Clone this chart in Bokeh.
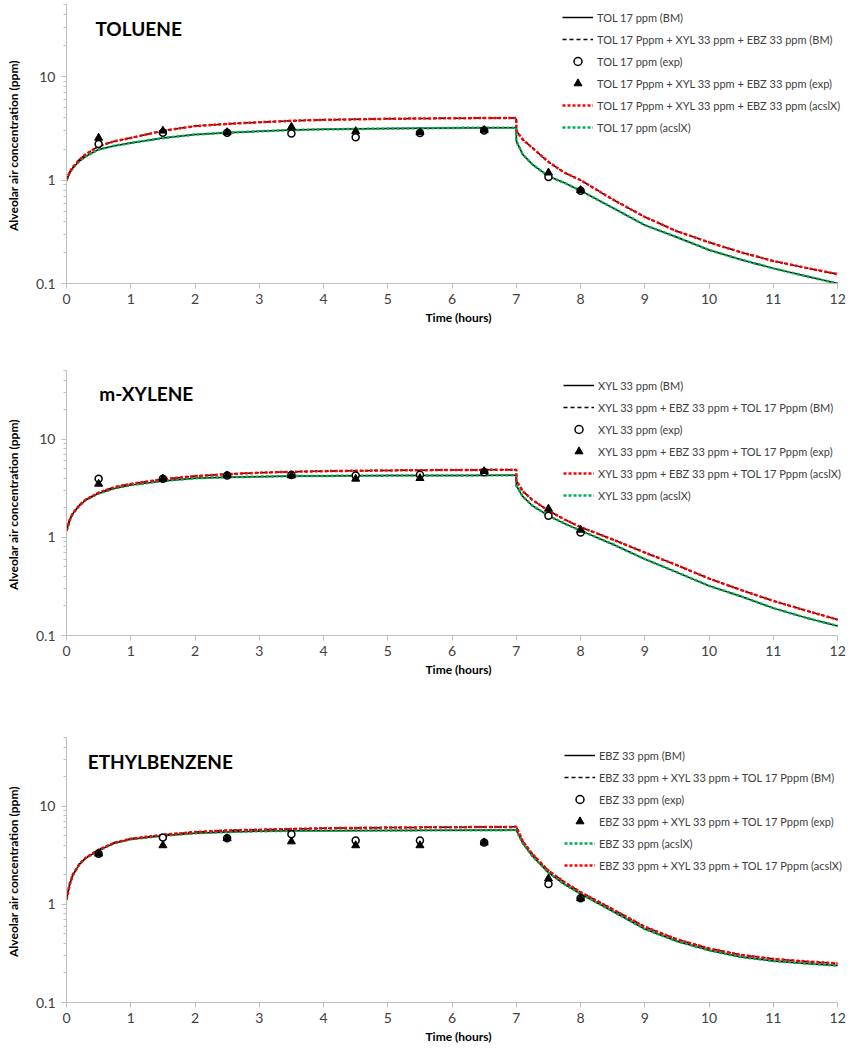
from bokeh.plotting import figure
from bokeh.models import (Range1d, FixedTicker, CustomJSTickFormatter, Legend,
                          LegendItem, Label)
from bokeh.layouts import column
from bokeh.embed import file_html
from bokeh.resources import INLINE

# ---------------- data ----------------
T = [0, 0.05, 0.1, 0.2, 0.3, 0.5, 0.75, 1, 1.5, 2, 2.5, 3, 3.5, 4, 5, 6, 7, 7,
     7.1, 7.25, 7.5, 7.75, 8, 8.5, 9, 9.5, 10, 10.5, 11, 11.5, 12]

TOL_SINGLE = [1.0, 1.18, 1.31, 1.53, 1.7, 1.98, 2.15, 2.29, 2.55, 2.76, 2.88, 2.97,
              3.05, 3.1, 3.15, 3.2, 3.22, 2.38, 1.77, 1.42, 1.09, 0.94, 0.79, 0.54,
              0.367, 0.28, 0.211, 0.17, 0.14, 0.118, 0.1]
TOL_MIX = [1.0, 1.2, 1.34, 1.58, 1.78, 2.13, 2.38, 2.56, 3.0, 3.33, 3.5, 3.63,
           3.75, 3.83, 3.92, 3.97, 4.0, 3.0, 2.47, 2.05, 1.5, 1.18, 1.0, 0.65,
           0.44, 0.32, 0.25, 0.2, 0.165, 0.142, 0.123]
XYL_SINGLE = [1.17, 1.5, 1.75, 2.1, 2.4, 2.8, 3.15, 3.4, 3.75, 4.0, 4.1, 4.15,
              4.2, 4.22, 4.25, 4.27, 4.28, 3.37, 2.6, 2.1, 1.66, 1.38, 1.17, 0.85,
              0.6, 0.44, 0.32, 0.25, 0.19, 0.152, 0.125]
XYL_MIX = [1.17, 1.5, 1.76, 2.12, 2.42, 2.85, 3.25, 3.5, 3.9, 4.2, 4.4, 4.55,
           4.65, 4.72, 4.8, 4.85, 4.88, 3.79, 2.95, 2.4, 1.87, 1.52, 1.27, 0.95,
           0.7, 0.52, 0.38, 0.29, 0.225, 0.18, 0.145]
EBZ_SINGLE = [1.12, 1.6, 2.0, 2.55, 2.95, 3.55, 4.2, 4.6, 5.0, 5.3, 5.45, 5.55,
              5.6, 5.62, 5.65, 5.68, 5.7, 5.7, 4.2, 3.1, 2.1, 1.6, 1.28, 0.85,
              0.56, 0.42, 0.34, 0.29, 0.265, 0.25, 0.238]
EBZ_MIX = [1.12, 1.6, 2.0, 2.57, 2.98, 3.6, 4.25, 4.65, 5.1, 5.45, 5.65, 5.75,
           5.85, 5.95, 6.05, 6.1, 6.15, 6.15, 4.4, 3.25, 2.2, 1.68, 1.33, 0.89,
           0.59, 0.44, 0.355, 0.305, 0.278, 0.262, 0.25]

EXP_T = [0.5, 1.5, 2.5, 3.5, 4.5, 5.5, 6.5, 7.5, 8]
TOL_EXP_SINGLE = [2.24, 2.87, 2.87, 2.83, 2.6, 2.86, 3.02, 1.07, 0.79]
TOL_EXP_MIX = [2.56, 3.0, 2.9, 3.27, 2.97, 2.9, 3.05, 1.18, 0.8]
XYL_EXP_SINGLE = [3.95, 3.94, 4.26, 4.3, 4.26, 4.33, 4.6, 1.66, 1.12]
XYL_EXP_MIX = [3.5, 3.94, 4.26, 4.26, 3.94, 4.0, 4.71, 1.95, 1.19]
EBZ_EXP_SINGLE = [3.27, 4.78, 4.7, 5.17, 4.46, 4.46, 4.26, 1.61, 1.15]
EBZ_EXP_MIX = [3.27, 3.98, 4.7, 4.36, 3.98, 3.98, 4.26, 1.83, 1.15]

TOL_LABELS = ["TOL 17 ppm (BM)",
              "TOL 17 Pppm + XYL 33 ppm + EBZ 33 ppm (BM)",
              "TOL 17 ppm (exp)",
              "TOL 17 Pppm + XYL 33 ppm + EBZ 33 ppm (exp)",
              "TOL 17 Pppm + XYL 33 ppm + EBZ 33 ppm (acslX)",
              "TOL 17 ppm (acslX)"]
XYL_LABELS = ["XYL 33 ppm (BM)",
              "XYL 33 ppm + EBZ 33 ppm + TOL 17 Pppm (BM)",
              "XYL 33 ppm (exp)",
              "XYL 33 ppm + EBZ 33 ppm + TOL 17 Pppm (exp)",
              "XYL 33 ppm + EBZ 33 ppm + TOL 17 Pppm (acslX)",
              "XYL 33 ppm (acslX)"]
EBZ_LABELS = ["EBZ 33 ppm (BM)",
              "EBZ 33 ppm + XYL 33 ppm + TOL 17 Pppm (BM)",
              "EBZ 33 ppm (exp)",
              "EBZ 33 ppm + XYL 33 ppm + TOL 17 Pppm (exp)",
              "EBZ 33 ppm (acslX)",
              "EBZ 33 ppm + XYL 33 ppm + TOL 17 Pppm (acslX)"]

Y_MAJOR = [0.1, 1, 10]
Y_MINOR = [0.2, 0.3, 0.4, 0.5, 0.6, 0.7, 0.8, 0.9, 2, 3, 4, 5, 6, 7, 8, 9, 20, 30, 40, 50]
X_TICKS = list(range(13))

FONT = "Lato"
RED = "#ff0000"
GREEN = "#00b050"
AXIS_GRAY = "#bfbfbf"


def make_panel(title, title_x, title_y, single, mix, exp_single, exp_mix,
               labels, acsl_order, height, top, bottom, leg_loc):
    p = figure(width=852, height=height, y_axis_type="log",
               x_range=Range1d(0, 12.2), y_range=Range1d(0.1, 50),
               output_backend="svg", toolbar_location=None,
               min_border_left=66, min_border_right=2,
               min_border_top=top, min_border_bottom=bottom)
    p.grid.visible = False
    p.outline_line_color = None
    p.background_fill_color = "white"

    r_bm_s = p.line(T, single, line_color="black", line_width=1.5)
    r_bm_m = p.line(T, mix, line_color="black", line_width=1.5, line_dash="4 3")
    r_ac_s = p.line(T, single, line_color=GREEN, line_width=2.5, line_dash="3 2")
    r_ac_m = p.line(T, mix, line_color=RED, line_width=2.5, line_dash="3 2")
    r_ex_s = p.scatter(EXP_T, exp_single, marker="circle", size=7,
                       fill_color="white", line_color="black", line_width=1.5)
    r_ex_m = p.scatter(EXP_T, exp_mix, marker="triangle", size=8,
                       fill_color="black", line_color="black")

    if acsl_order == "mix_first":
        acsl = [r_ac_m, r_ac_s]
    else:
        acsl = [r_ac_s, r_ac_m]
    rends = [r_bm_s, r_bm_m, r_ex_s, r_ex_m] + acsl
    items = [LegendItem(label=lab, renderers=[r]) for lab, r in zip(labels, rends)]
    leg = Legend(items=items, location=leg_loc, padding=0, margin=0, spacing=2,
                 glyph_width=31, glyph_height=20, label_height=20,
                 label_standoff=4, label_text_font=FONT,
                 label_text_font_size="11px", label_text_color="#404040",
                 background_fill_alpha=0, border_line_alpha=0)
    p.add_layout(leg)

    p.add_layout(Label(x=title_x, y=title_y, text=title, text_font=FONT,
                       text_font_style="bold", text_font_size="19px",
                       text_baseline="middle", text_align="left",
                       text_color="black"))

    for ax in (p.xaxis[0], p.yaxis[0]):
        ax.axis_line_color = AXIS_GRAY
        ax.major_tick_line_color = AXIS_GRAY
        ax.minor_tick_line_color = AXIS_GRAY
        ax.major_tick_in = 0
        ax.major_tick_out = 5
        ax.minor_tick_in = 0
        ax.minor_tick_out = 3
        ax.major_label_text_font = FONT
        ax.major_label_text_font_size = "14px"
        ax.major_label_text_color = "#404040"
        ax.axis_label_text_font = FONT
        ax.axis_label_text_font_style = "bold"
        ax.axis_label_text_font_size = "12px"
        ax.axis_label_text_color = "black"

    p.xaxis.ticker = FixedTicker(ticks=X_TICKS)
    p.xaxis.bounds = (0, 12)
    p.xaxis.minor_tick_line_color = None
    p.xaxis.axis_label = "Time (hours)"
    p.xaxis.major_label_standoff = 5
    p.xaxis.axis_label_standoff = 3

    p.yaxis.ticker = FixedTicker(ticks=Y_MAJOR, minor_ticks=Y_MINOR)
    p.yaxis.formatter = CustomJSTickFormatter(code="return tick.toString();")
    p.yaxis.axis_label = "Alveolar air concentration  (ppm)"
    p.yaxis.major_label_standoff = 6
    p.yaxis.axis_label_standoff = 12
    return p


p1 = make_panel("TOLUENE", 0.45, 29.3, TOL_SINGLE, TOL_MIX, TOL_EXP_SINGLE,
                TOL_EXP_MIX, TOL_LABELS, "mix_first", 340, 4, 57, (496, 146))
p2 = make_panel("m-XYLENE", 0.51, 29.1, XYL_SINGLE, XYL_MIX, XYL_EXP_SINGLE,
                XYL_EXP_MIX, XYL_LABELS, "mix_first", 340, 30, 45, (497, 130))
p3 = make_panel("ETHYLBENZENE", 0.33, 28.5, EBZ_SINGLE, EBZ_MIX, EBZ_EXP_SINGLE,
                EBZ_EXP_MIX, EBZ_LABELS, "single_first", 368, 57, 46, (498, 127))

layout = column(p1, p2, p3)
open("out.html", "w").write(file_html(layout, INLINE))
